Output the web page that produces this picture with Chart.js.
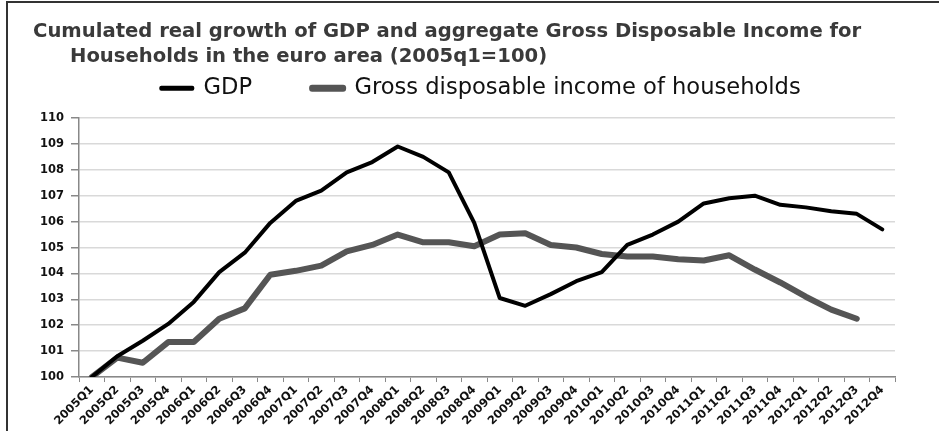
<!DOCTYPE html>
<html>
<head>
<meta charset="utf-8">
<script src="https://cdn.jsdelivr.net/npm/chart.js@4.4.0/dist/chart.umd.min.js"></script>
<style>
  body { margin: 0; background: #fff; }
  #wrap { position: relative; width: 939px; height: 431px; overflow: hidden; }
  #frame { position: absolute; left: 6px; top: 1px; width: 960px; height: 460px;
           border-top: 2px solid #333; border-left: 2px solid #333; }
  #chart { position: absolute; left: 0; top: 0; }
  .title { position: absolute; font-family: "DejaVu Sans", sans-serif; font-weight: bold;
           font-size: 19.6px; color: #3a3a3a; white-space: nowrap; line-height: 1; }
</style>
</head>
<body>
<div id="wrap">
  <div id="frame"></div>
  <canvas id="chart" width="939" height="431"></canvas>
  <div class="title" style="left:33px; top:21px;">Cumulated real growth of GDP and aggregate Gross Disposable Income for</div>
  <div class="title" style="left:70px; top:46px;">Households in the euro area (2005q1=100)</div>
</div>
<script>
var quarters = [
  "2005Q1", "2005Q2", "2005Q3", "2005Q4", "2006Q1", "2006Q2", "2006Q3", "2006Q4",
  "2007Q1", "2007Q2", "2007Q3", "2007Q4", "2008Q1", "2008Q2", "2008Q3", "2008Q4",
  "2009Q1", "2009Q2", "2009Q3", "2009Q4", "2010Q1", "2010Q2", "2010Q3", "2010Q4",
  "2011Q1", "2011Q2", "2011Q3", "2011Q4", "2012Q1", "2012Q2", "2012Q3", "2012Q4"
];
var gdp = [
  100, 100.8, 101.4, 102.05, 102.9, 104.05, 104.8, 105.95,
  106.8, 107.2, 107.9, 108.3, 108.9, 108.5, 107.9, 105.95,
  103.05, 102.75, 103.2, 103.7, 104.05, 105.1, 105.5, 106.0,
  106.7, 106.9, 107.0, 106.65, 106.55, 106.4, 106.3, 105.7
];
var gdi = [
  100, 100.75, 100.55, 101.35, 101.35, 102.25, 102.65, 103.95,
  104.1, 104.3, 104.85, 105.1, 105.5, 105.2, 105.2, 105.05,
  105.5, 105.55, 105.1, 105.0, 104.75, 104.65, 104.65, 104.55,
  104.5, 104.7, 104.15, 103.65, 103.1, 102.6, 102.25, null
];
var yTicks = [100, 101, 102, 103, 104, 105, 106, 107, 108, 109, 110];

// fixed legend height so the plot starts lower, and nudge the legend right
var legendTweak = {
  id: "legendTweak",
  beforeInit: function (chart) {
    var fit = chart.legend.fit;
    chart.legend.fit = function () {
      fit.call(chart.legend);
      this.height = 101;
    };
  },
  afterLayout: function (chart) {
    chart.legend.left += 17;
    chart.legend.right += 17;
  }
};

new Chart("chart", {
  type: "line",
  data: {
    labels: quarters,
    datasets: [
      {
        label: "GDP",
        data: gdp,
        borderColor: "#000",
        backgroundColor: "#000",
        borderWidth: 4,
        borderCapStyle: "round",
        borderJoinStyle: "round",
        pointRadius: 0,
        tension: 0
      },
      {
        label: "Gross disposable income of households",
        data: gdi,
        borderColor: "#555",
        backgroundColor: "#555",
        borderWidth: 6,
        borderCapStyle: "round",
        borderJoinStyle: "round",
        pointRadius: 0,
        tension: 0
      }
    ]
  },
  options: {
    responsive: false,
    animation: false,
    layout: { padding: { left: 33, right: 44, top: 17, bottom: 2 } },
    plugins: {
      tooltip: { enabled: false },
      legend: {
        display: true,
        position: "top",
        labels: {
          boxWidth: 31,
          boxHeight: 1,
          padding: 60,
          color: "#111",
          font: { family: "DejaVu Sans", size: 22.6 }
        }
      }
    },
    scales: {
      x: {
        offset: true,
        grid: { offset: true, drawOnChartArea: false, drawTicks: true, tickLength: 5, color: "#888" },
        border: { display: true, color: "#888", width: 1.5 },
        ticks: {
          minRotation: 45, maxRotation: 45, autoSkip: false, padding: 1,
          color: "#111",
          font: { family: "DejaVu Sans", weight: "bold", size: 11.5 }
        }
      },
      y: {
        min: 100, max: 110,
        afterBuildTicks: function (axis) {
          axis.ticks = yTicks.map(function (v) { return { value: v }; });
        },
        grid: { color: "#d9d9d9", lineWidth: 1.5, tickColor: "#888", tickLength: 8 },
        border: { display: true, color: "#888", width: 1.5 },
        ticks: {
          padding: 7,
          color: "#111",
          font: { family: "DejaVu Sans", weight: "bold", size: 11.5 }
        }
      }
    }
  },
  plugins: [legendTweak]
});
</script>
</body>
</html>
